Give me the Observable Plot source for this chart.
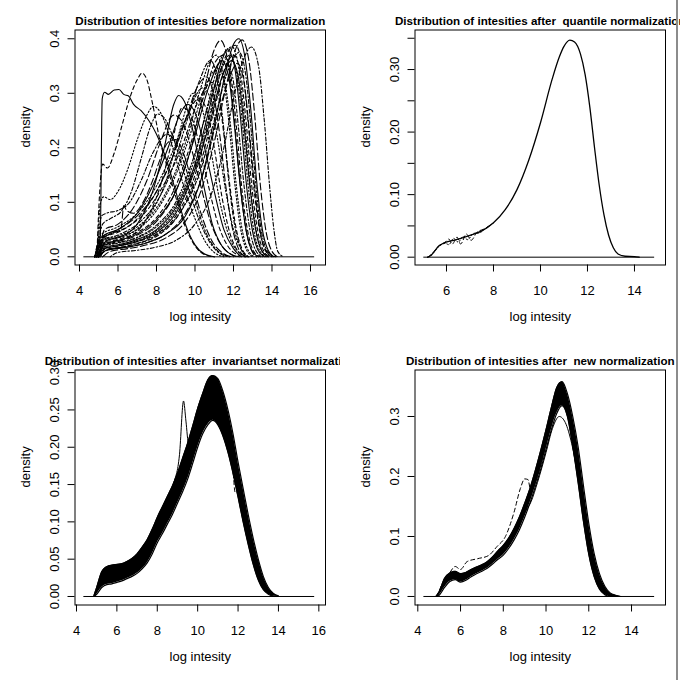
<!DOCTYPE html>
<html><head><meta charset="utf-8">
<script src="https://cdn.jsdelivr.net/npm/d3@7"></script>
<script src="https://cdn.jsdelivr.net/npm/@observablehq/plot@0.6"></script>
<style>
html,body{margin:0;padding:0;background:#fff;}
#wrap{position:relative;width:680px;height:680px;overflow:hidden;background:#fff;}
.cell{position:absolute;width:340px;height:340px;overflow:hidden;}
#edge{position:absolute;left:676px;top:0;width:2px;height:680px;background:#8c8c8c;}
</style></head><body>
<div id="wrap">
<div class="cell" id="p1" style="left:0;top:0"></div>
<div class="cell" id="p2" style="left:340px;top:0"></div>
<div class="cell" id="p3" style="left:0;top:340px"></div>
<div class="cell" id="p4" style="left:340px;top:340px"></div>
<div id="edge"></div>
</div>
<script>
// ---------- text ----------
const titles = [
  "Distribution of intesities before normalization",
  "Distribution of intesities after  quantile normalization",
  "Distribution of intesities after  invariantset normalization",
  "Distribution of intesities after  new normalization"
];
const xLabel = "log intesity";
const yLabel = "density";

// ---------- tick values ----------
const ticksX1 = [4, 6, 8, 10, 12, 14, 16];
const ticksY1 = [0, 0.1, 0.2, 0.3, 0.4];
const ticksX2 = [6, 8, 10, 12, 14];
const ticksY2 = [0, 0.05, 0.10, 0.15, 0.20, 0.25, 0.30, 0.35];
const ticksX3 = [4, 6, 8, 10, 12, 14, 16];
const ticksY3 = [0, 0.05, 0.10, 0.15, 0.20, 0.25, 0.30];
const ticksX4 = [4, 6, 8, 10, 12, 14];
const ticksY4 = [0, 0.1, 0.2, 0.3];

// ---------- panel 1: before normalization (x, density) ----------
const before = [
  [[4.95,0],[5.08,0.04],[5.18,0.29],[5.3,0.302],[5.5,0.298],[5.8,0.306],[6.05,0.307],[6.3,0.298],[6.55,0.295],[6.8,0.28],[7.2,0.268],[7.6,0.25],[8.0,0.225],[8.5,0.18],[9.0,0.12],[9.5,0.06],[10.0,0.022],[10.5,0.005],[11.0,0]],
  [[4.9,0],[5.05,0.12],[5.2,0.17],[5.45,0.163],[5.8,0.19],[6.2,0.24],[6.6,0.29],[7.0,0.325],[7.25,0.337],[7.5,0.325],[7.8,0.28],[8.2,0.21],[8.6,0.16],[9.0,0.11],[9.5,0.055],[10.0,0.02],[10.5,0.004],[11.0,0]],
  [[4.9,0],[5.1,0.1],[5.25,0.11],[5.6,0.105],[6.0,0.12],[6.5,0.16],[7.0,0.215],[7.5,0.26],[7.85,0.276],[8.2,0.265],[8.6,0.23],[9.0,0.18],[9.5,0.12],[10.0,0.07],[10.5,0.03],[11.0,0.008],[11.5,0]],
  [[4.9,0],[5.2,0.06],[5.6,0.07],[6.2,0.085],[6.7,0.12],[7.2,0.18],[7.7,0.24],[8.05,0.262],[8.4,0.255],[8.8,0.225],[9.3,0.17],[9.8,0.11],[10.3,0.06],[10.8,0.025],[11.3,0.006],[11.8,0]],
  [[5.0,0],[5.3,0.035],[5.8,0.045],[6.15,0.05],[6.3,0.094],[6.45,0.085],[6.8,0.08],[7.3,0.1],[7.8,0.14],[8.2,0.18],[8.6,0.21],[9.0,0.215],[9.4,0.19],[9.9,0.13],[10.4,0.07],[10.9,0.028],[11.4,0.008],[11.9,0]],
  [[5.0,0],[5.4,0.03],[6.0,0.035],[7.0,0.06],[7.8,0.12],[8.4,0.2],[8.9,0.28],[9.15,0.296],[9.45,0.285],[9.9,0.23],[10.4,0.14],[10.9,0.06],[11.4,0.02],[11.9,0.004],[12.3,0]],
  [[5.1,0],[5.5,0.025],[6.5,0.035],[7.5,0.07],[8.2,0.13],[8.8,0.21],[9.35,0.274],[9.7,0.265],[10.2,0.21],[10.7,0.13],[11.2,0.06],[11.7,0.02],[12.2,0.004],[12.6,0]],
  [[5.0,0],[5.4,0.03],[6.5,0.04],[7.5,0.07],[8.5,0.14],[9.2,0.23],[9.9,0.30],[10.3,0.28],[10.8,0.2],[11.3,0.1],[11.8,0.035],[12.3,0.008],[12.8,0]],
  [[4.9,0],[5.15,0.075],[5.4,0.08],[6.0,0.085],[6.6,0.1],[7.2,0.14],[7.8,0.19],[8.55,0.225],[9.0,0.21],[9.5,0.165],[10.0,0.105],[10.5,0.05],[11.0,0.018],[11.5,0.004],[12.0,0]],
  [[5.0,0],[5.3,0.05],[6.0,0.06],[6.8,0.09],[7.5,0.14],[8.2,0.21],[8.9,0.26],[9.3,0.25],[9.8,0.2],[10.3,0.13],[10.8,0.065],[11.3,0.025],[11.8,0.006],[12.2,0]],
  [[5.0,0],[5.3,0.04],[6.0,0.05],[7.0,0.08],[7.8,0.13],[8.6,0.2],[9.2,0.26],[9.6,0.28],[10.0,0.265],[10.5,0.2],[11.0,0.12],[11.5,0.05],[12.0,0.015],[12.4,0]],
  [[4.9,0],[5.2,0.035],[6.0,0.045],[7.0,0.07],[8.0,0.12],[8.8,0.18],[9.5,0.25],[10.2,0.29],[10.6,0.27],[11.0,0.2],[11.4,0.11],[11.8,0.045],[12.2,0.012],[12.6,0]],
  [[4.8,0],[5.1,0.04],[6.0,0.055],[7.0,0.08],[8.0,0.13],[8.8,0.19],[9.6,0.26],[10.4,0.31],[10.8,0.29],[11.2,0.21],[11.6,0.12],[12.0,0.05],[12.4,0.014],[12.8,0]],
  [[5.6,0],[6.0,0.008],[7.0,0.012],[8.0,0.018],[9.0,0.03],[10.0,0.06],[10.8,0.11],[11.5,0.2],[12.0,0.29],[12.5,0.36],[12.93,0.385],[13.3,0.35],[13.6,0.25],[13.9,0.12],[14.1,0.05],[14.3,0.01],[14.6,0]],
  [[5.2,0],[5.6,0.01],[6.5,0.015],[7.5,0.022],[8.5,0.035],[9.5,0.065],[10.3,0.12],[11.0,0.21],[11.6,0.31],[12.1,0.38],[12.45,0.398],[12.8,0.36],[13.1,0.26],[13.4,0.13],[13.7,0.045],[14.0,0.01],[14.3,0]],
  [[5.0,0],[5.4,0.012],[6.5,0.018],[7.5,0.026],[8.5,0.042],[9.5,0.075],[10.3,0.14],[11.0,0.24],[11.6,0.34],[12.0,0.39],[12.28,0.4],[12.6,0.365],[12.9,0.27],[13.2,0.14],[13.5,0.05],[13.8,0.012],[14.1,0]],
  [[4.9,0],[5.2,0.015],[6.0,0.02],[7.0,0.028],[8.0,0.042],[9.0,0.075],[10.0,0.15],[10.8,0.26],[11.5,0.36],[12.1,0.388],[12.45,0.35],[12.75,0.25],[13.05,0.13],[13.35,0.05],[13.65,0.012],[14.0,0]],
  [[4.8,0],[5.1,0.02],[6.0,0.025],[7.0,0.035],[8.0,0.055],[9.0,0.095],[9.8,0.16],[10.6,0.27],[11.3,0.36],[11.93,0.385],[12.3,0.34],[12.6,0.24],[12.9,0.12],[13.2,0.045],[13.5,0.01],[13.8,0]],
  [[5.0,0],[5.3,0.01],[6.5,0.02],[8.0,0.04],[9.2,0.08],[10.2,0.15],[11.0,0.25],[11.7,0.34],[12.3,0.375],[12.65,0.33],[12.95,0.22],[13.25,0.1],[13.55,0.03],[13.9,0.005],[14.2,0]],
  [[4.8,0],[5.1,0.02],[6.0,0.028],[7.0,0.04],[8.0,0.065],[9.0,0.12],[9.8,0.2],[10.5,0.31],[11.0,0.38],[11.33,0.397],[11.7,0.36],[12.0,0.27],[12.3,0.15],[12.6,0.06],[12.9,0.015],[13.2,0]],
  [[4.9,0],[5.2,0.018],[6.0,0.022],[7.0,0.032],[8.0,0.05],[9.0,0.09],[10.0,0.17],[10.8,0.28],[11.3,0.35],[11.7,0.38],[12.05,0.35],[12.35,0.26],[12.65,0.14],[12.95,0.055],[13.25,0.014],[13.6,0]],
  [[4.8,0],[5.1,0.025],[6.0,0.032],[7.0,0.045],[8.0,0.072],[9.0,0.13],[9.8,0.21],[10.5,0.3],[11.1,0.36],[11.5,0.37],[11.85,0.335],[12.15,0.24],[12.45,0.12],[12.75,0.045],[13.05,0.01],[13.4,0]],
  [[4.8,0],[5.1,0.03],[6.0,0.038],[7.0,0.055],[8.0,0.09],[8.8,0.14],[9.6,0.22],[10.3,0.31],[10.8,0.36],[11.1,0.37],[11.45,0.335],[11.75,0.25],[12.05,0.14],[12.35,0.055],[12.65,0.015],[13.0,0]],
  [[4.8,0],[5.1,0.03],[6.0,0.04],[7.0,0.06],[8.0,0.1],[8.8,0.16],[9.5,0.24],[10.2,0.32],[10.8,0.36],[11.15,0.33],[11.45,0.25],[11.75,0.14],[12.05,0.06],[12.35,0.018],[12.7,0]],
  [[4.8,0],[5.1,0.035],[6.0,0.05],[7.0,0.075],[8.0,0.12],[8.8,0.18],[9.5,0.25],[10.1,0.31],[10.6,0.33],[10.95,0.3],[11.3,0.22],[11.6,0.13],[11.9,0.06],[12.2,0.02],[12.6,0]],
  [[5.0,0],[5.3,0.015],[6.0,0.02],[7.0,0.028],[8.0,0.045],[9.0,0.08],[10.0,0.16],[10.8,0.25],[11.4,0.33],[11.9,0.36],[12.25,0.33],[12.55,0.24],[12.85,0.13],[13.15,0.05],[13.45,0.012],[13.8,0]],
  [[4.9,0],[5.2,0.012],[6.2,0.018],[7.2,0.026],[8.2,0.042],[9.2,0.08],[10.2,0.16],[11.0,0.27],[11.6,0.35],[12.0,0.37],[12.35,0.34],[12.65,0.25],[12.95,0.13],[13.25,0.05],[13.55,0.012],[13.9,0]],
  [[4.8,0],[5.1,0.028],[6.0,0.036],[7.0,0.05],[8.0,0.085],[9.0,0.15],[9.8,0.23],[10.5,0.31],[11.2,0.345],[11.55,0.32],[11.85,0.24],[12.15,0.13],[12.45,0.05],[12.75,0.013],[13.1,0]],
  [[4.9,0],[5.2,0.02],[6.0,0.026],[7.0,0.036],[8.0,0.058],[9.0,0.1],[10.0,0.19],[10.8,0.29],[11.6,0.355],[11.95,0.33],[12.25,0.24],[12.55,0.13],[12.85,0.05],[13.15,0.012],[13.5,0]],
  [[5.0,0],[5.4,0.012],[6.5,0.018],[7.5,0.026],[8.5,0.042],[9.5,0.08],[10.4,0.15],[11.2,0.26],[11.8,0.33],[12.2,0.355],[12.55,0.32],[12.85,0.22],[13.15,0.11],[13.45,0.035],[13.75,0.008],[14.0,0]],
  [[4.8,0],[5.1,0.022],[6.0,0.03],[7.0,0.042],[8.0,0.068],[9.0,0.12],[9.9,0.21],[10.7,0.31],[11.4,0.36],[11.75,0.33],[12.05,0.24],[12.35,0.13],[12.65,0.05],[12.95,0.012],[13.3,0]],
  [[4.8,0],[5.0,0.03],[5.5,0.04],[6.5,0.055],[7.5,0.085],[8.5,0.14],[9.3,0.2],[10.1,0.28],[10.9,0.32],[11.25,0.29],[11.55,0.21],[11.85,0.12],[12.15,0.05],[12.45,0.014],[12.8,0]],
  [[4.9,0],[5.2,0.016],[6.0,0.02],[7.0,0.03],[8.0,0.048],[9.0,0.085],[10.0,0.165],[10.9,0.28],[11.4,0.345],[11.8,0.37],[12.15,0.34],[12.45,0.25],[12.75,0.135],[13.05,0.05],[13.35,0.012],[13.7,0]]
];
const beforeBase = [[4.22,0],[16.17,0]];

// ---------- panel 2: quantile normalization ----------
const quantMain = [[5.2,0],[5.35,0.003],[5.5,0.01],[5.65,0.017],[5.9,0.023],[6.2,0.026],[6.5,0.029],[7.0,0.035],[7.5,0.042],[8.0,0.055],[8.5,0.076],[9.0,0.108],[9.5,0.155],[10.0,0.215],[10.5,0.285],[10.8,0.32],[11.0,0.337],[11.25,0.347],[11.45,0.344],[11.7,0.325],[11.9,0.292],[12.1,0.24],[12.3,0.175],[12.5,0.115],[12.7,0.068],[12.9,0.035],[13.1,0.015],[13.3,0.005],[13.6,0.0015],[14.0,0.001],[14.2,0]];
const quantWiggle = [
  [[5.2,0],[5.4,0.006],[5.67,0.018],[5.95,0.024],[6.1,0.029],[6.25,0.021],[6.45,0.032],[6.6,0.021],[6.85,0.037],[7.05,0.027],[7.3,0.04],[7.6,0.045],[8.0,0.055]],
  [[5.2,0],[5.4,0.005],[5.67,0.017],[5.95,0.022],[6.1,0.02],[6.3,0.03],[6.5,0.024],[6.7,0.033],[6.9,0.028],[7.15,0.038],[7.4,0.039],[7.7,0.047],[8.0,0.055]]
];
const quantBase = [[5.03,0],[14.82,0]];

// ---------- panel 3: invariantset normalization (band of curves) ----------
const invX  = [4.85,5.0,5.25,5.5,5.75,6.0,6.25,6.5,6.75,7.0,7.25,7.5,7.75,8.0,8.25,8.5,8.75,9.0,9.25,9.5,9.75,10.0,10.25,10.5,10.75,11.0,11.25,11.5,11.75,12.0,12.25,12.5,12.75,13.0,13.25,13.5,13.75,14.0];
const invLo = [0,0.003,0.012,0.016,0.017,0.019,0.021,0.024,0.027,0.031,0.037,0.045,0.057,0.072,0.084,0.097,0.11,0.125,0.14,0.157,0.178,0.2,0.218,0.23,0.236,0.23,0.215,0.193,0.165,0.133,0.1,0.07,0.043,0.022,0.009,0.003,0.0005,0];
const invHi = [0,0.012,0.033,0.04,0.042,0.043,0.044,0.047,0.051,0.057,0.066,0.076,0.09,0.106,0.12,0.134,0.148,0.165,0.185,0.205,0.228,0.252,0.272,0.29,0.296,0.292,0.275,0.25,0.218,0.18,0.145,0.11,0.078,0.05,0.027,0.012,0.004,0.001];
const invOutliers = [
  [[4.9,0],[5.2,0.02],[5.6,0.03],[6.2,0.032],[7.0,0.045],[7.6,0.065],[8.2,0.1],[8.8,0.15],[9.1,0.19],[9.3,0.262],[9.42,0.235],[9.55,0.205],[9.8,0.225],[10.2,0.26],[10.6,0.28],[11.0,0.27],[11.4,0.235],[11.8,0.185],[12.2,0.125],[12.6,0.07],[13.0,0.03],[13.4,0.008],[13.8,0]],
  [[4.9,0],[5.3,0.03],[5.8,0.04],[6.3,0.038],[7.0,0.052],[7.8,0.09],[8.5,0.13],[9.2,0.175],[9.8,0.225],[10.3,0.27],[10.7,0.285],[11.0,0.275],[11.3,0.252],[11.55,0.225],[11.75,0.17],[11.85,0.14],[12.0,0.138],[12.2,0.11],[12.5,0.075],[12.8,0.055],[12.95,0.05],[13.2,0.025],[13.5,0.008],[13.9,0]]
];
const invBase = [[4.36,0],[15.75,0]];

// ---------- panel 4: new normalization (band of curves) ----------
const newX  = [4.85,5.0,5.25,5.5,5.75,6.0,6.25,6.5,6.75,7.0,7.25,7.5,7.75,8.0,8.25,8.5,8.75,9.0,9.25,9.5,9.75,10.0,10.25,10.5,10.75,11.0,11.25,11.5,11.75,12.0,12.25,12.5,12.75,13.0,13.25,13.5];
const newLo = [0,0.002,0.015,0.025,0.028,0.024,0.027,0.033,0.038,0.042,0.047,0.054,0.062,0.069,0.08,0.094,0.111,0.132,0.156,0.183,0.212,0.245,0.278,0.305,0.318,0.3,0.25,0.19,0.125,0.07,0.033,0.012,0.003,0,0,0];
const newHi = [0,0.008,0.03,0.039,0.042,0.038,0.04,0.045,0.049,0.053,0.058,0.066,0.076,0.085,0.097,0.113,0.132,0.155,0.18,0.21,0.243,0.278,0.315,0.348,0.358,0.338,0.3,0.25,0.185,0.122,0.072,0.038,0.017,0.006,0.002,0];
const newOutliers = [
  [[4.9,0],[5.2,0.02],[5.6,0.035],[6.0,0.03],[6.5,0.04],[7.0,0.05],[7.5,0.062],[8.0,0.08],[8.5,0.105],[9.0,0.14],[9.3,0.158],[9.6,0.19],[10.0,0.24],[10.3,0.28],[10.62,0.3],[10.9,0.29],[11.2,0.255],[11.5,0.2],[11.8,0.135],[12.1,0.075],[12.4,0.035],[12.7,0.012],[13.0,0.003],[13.3,0]],
  [[4.9,0],[5.2,0.025],[5.5,0.04],[5.75,0.05],[6.0,0.045],[6.3,0.058],[6.8,0.063],[7.3,0.068],[7.7,0.083],[8.1,0.1],[8.5,0.14],[8.8,0.18],[9.0,0.196],[9.15,0.195],[9.3,0.175],[9.5,0.19],[9.8,0.225],[10.1,0.27],[10.4,0.315],[10.7,0.335],[11.0,0.315],[11.3,0.265],[11.6,0.195],[11.9,0.125],[12.2,0.068],[12.5,0.03],[12.8,0.01],[13.1,0.002],[13.4,0]]
];
const newBase = [[4.28,0],[15.04,0]];

// ---------- drawing ----------
const FONT = "'Liberation Sans', Arial, Helvetica, sans-serif";
const DASHES = [undefined, "4,3", "1.5,2", "1.5,2,4,2", "7,3"];

function curveRows(curves) {
  return curves.flatMap((c, i) => c.map(([x, y]) => ({id: i, k: i % 5, x, y})));
}
function curveMarks(curves, opts = {}) {
  const rows = curveRows(curves);
  return DASHES.map((d, k) => Plot.line(rows.filter(r => r.k === k), {
    x: "x", y: "y", z: "id", curve: "monotone-x", stroke: "black",
    strokeWidth: opts.width ?? 1, strokeDasharray: d
  }));
}
function baseMark(base) {
  return Plot.line(base.map(([x, y]) => ({x, y})), {x: "x", y: "y", stroke: "black", strokeWidth: 1});
}
function bandMarks(xs, lo, hi) {
  const t = xs.map((x, i) => ({x, lo: lo[i], hi: hi[i]}));
  return [
    Plot.areaY(t, {x: "x", y1: "lo", y2: "hi", curve: "monotone-x", fill: "black"}),
    Plot.line(t, {x: "x", y: "lo", curve: "monotone-x", stroke: "black", strokeWidth: 1.2}),
    Plot.line(t, {x: "x", y: "hi", curve: "monotone-x", stroke: "black", strokeWidth: 1.2})
  ];
}

function panel(el, o) {
  const svg = Plot.plot({
    width: 340, height: 340,
    marginLeft: 74.5, marginRight: 15, marginTop: 29.5, marginBottom: 75.5,
    x: {domain: o.xd}, y: {domain: o.yd},
    style: {fontFamily: FONT, background: "white"},
    marks: [
      ...o.marks,
      Plot.frame({stroke: "black", strokeWidth: 1}),
      Plot.axisX({ticks: o.xt, tickSize: 7, tickPadding: 13.5, fontSize: 13, label: null, tickFormat: d => String(d)}),
      Plot.axisY({ticks: o.yt, tickSize: 7, tickPadding: 9.5, tickRotate: -90, fontSize: 13, label: null, tickFormat: o.yf}),
      Plot.text([o.title], {frameAnchor: "top", dy: -13.5, fontSize: 11.6, fontWeight: "bold"}),
      Plot.text([xLabel], {frameAnchor: "bottom", dy: 55.5, fontSize: 13}),
      Plot.text([yLabel], {frameAnchor: "left", dx: -49.5, rotate: -90, fontSize: 13})
    ]
  });
  document.getElementById(el).appendChild(svg);
}

panel("p1", {
  title: titles[0], xd: [3.766, 16.78], yd: [-0.015, 0.4161],
  xt: ticksX1, yt: ticksY1, yf: d => d.toFixed(1),
  marks: [baseMark(beforeBase), ...curveMarks(before, {width: 1.1})]
});
panel("p2", {
  title: titles[1], xd: [4.66, 15.32], yd: [-0.0125, 0.3632],
  xt: ticksX2, yt: ticksY2, yf: d => (Math.round(d * 100) % 10 === 0 ? d.toFixed(2) : ""),
  marks: [
    baseMark(quantBase),
    Plot.line(quantWiggle[0].map(([x, y]) => ({x, y})), {x: "x", y: "y", curve: "monotone-x", stroke: "black", strokeWidth: 1, strokeDasharray: "4,3"}),
    Plot.line(quantWiggle[1].map(([x, y]) => ({x, y})), {x: "x", y: "y", curve: "monotone-x", stroke: "black", strokeWidth: 1, strokeDasharray: "1.5,2"}),
    Plot.line(quantMain.map(([x, y]) => ({x, y})), {x: "x", y: "y", curve: "monotone-x", stroke: "black", strokeWidth: 1.3})
  ]
});
panel("p3", {
  title: titles[2], xd: [3.926, 16.33], yd: [-0.0114, 0.3035],
  xt: ticksX3, yt: ticksY3, yf: d => d.toFixed(2),
  marks: [baseMark(invBase), ...bandMarks(invX, invLo, invHi), ...curveMarks(invOutliers)]
});
panel("p4", {
  title: titles[3], xd: [3.869, 15.59], yd: [-0.0142, 0.3775],
  xt: ticksX4, yt: ticksY4, yf: d => d.toFixed(1),
  marks: [baseMark(newBase), ...bandMarks(newX, newLo, newHi), ...curveMarks(newOutliers)]
});
</script>
</body></html>
